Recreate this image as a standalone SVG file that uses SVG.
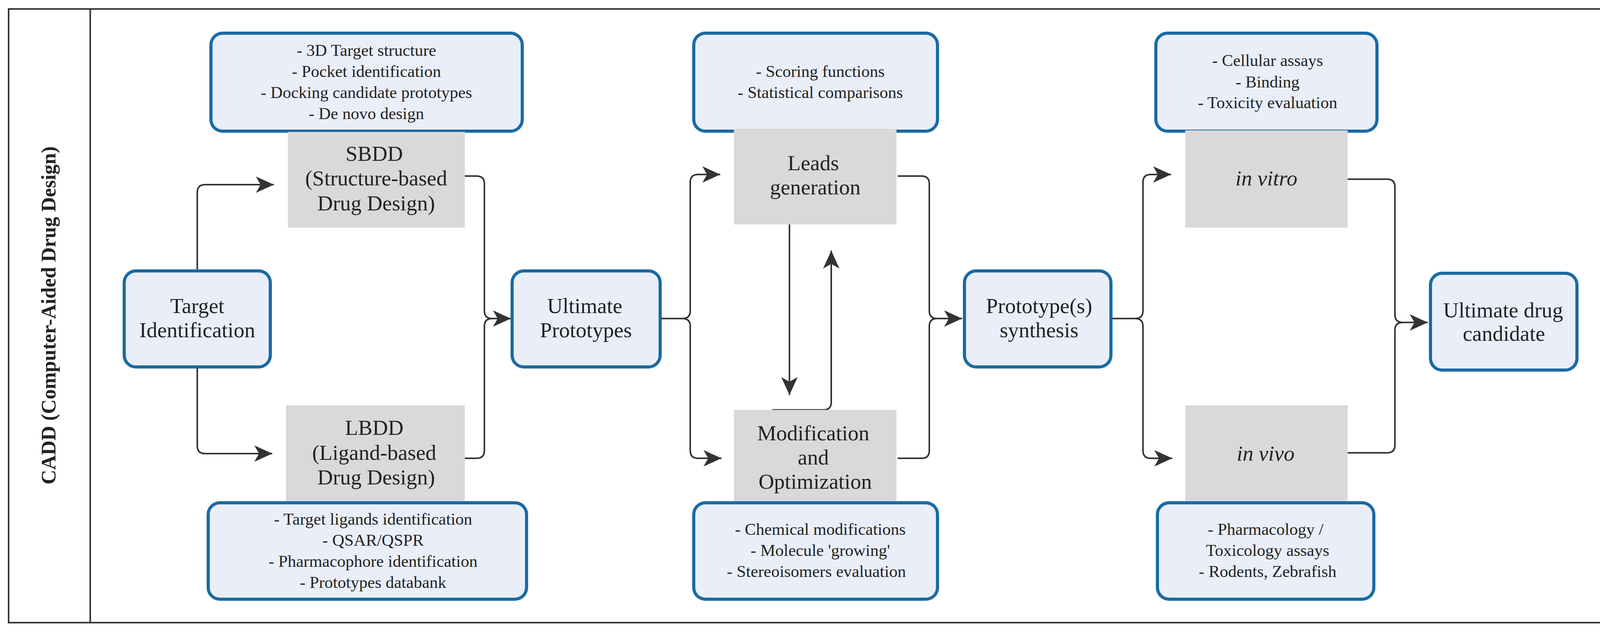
<svg xmlns="http://www.w3.org/2000/svg" width="4161" height="1619" viewBox="0 0 4161 1619">
<style>
.b{fill:#e9eef9;stroke:#1a6aa3;stroke-width:8}
.g{fill:#d9d9d9;stroke:none}
.t{font-family:'Liberation Serif','Times New Roman','DejaVu Serif',serif;fill:#222;text-anchor:middle}
.s{font-size:43px}
.m{font-size:55px}
.c{fill:none;stroke:#333;stroke-width:4}
</style>
<defs>
<marker id="a" markerUnits="userSpaceOnUse" markerWidth="50" markerHeight="44" refX="46" refY="21" orient="auto">
<path d="M0,0 L46,21 L0,42 L12,21 z" fill="#333"/>
</marker>
</defs>
<rect x="0" y="0" width="4161" height="1619" fill="#fff"/>
<rect x="22" y="23" width="4118" height="1572" fill="none" stroke="#333" stroke-width="4"/>
<line x1="231" y1="23" x2="231" y2="1595" stroke="#333" stroke-width="4"/>
<text class="t" font-family="Liberation Serif, serif" font-weight="bold" font-size="52" transform="translate(142,808) rotate(-90)">CADD (Computer-Aided Drug Design)</text>

<g id="conn">
<path class="c" marker-end="url(#a)" d="M505 692 V493 Q505 473 525 473 H701"/>
<path class="c" marker-end="url(#a)" d="M505 940 V1142 Q505 1162 525 1162 H697"/>
<path class="c" marker-end="url(#a)" d="M1183 451 H1220 Q1240 451 1240 471 V796 Q1240 816 1260 816 H1308"/>
<path class="c" d="M1183 1174 H1220 Q1240 1174 1240 1154 V836 Q1240 816 1260 816"/>
<path class="c" marker-end="url(#a)" d="M1690 816 H1747 Q1767 816 1767 796 V467 Q1767 447 1787 447 H1844"/>
<path class="c" marker-end="url(#a)" d="M1690 816 H1747 Q1767 816 1767 836 V1154 Q1767 1174 1787 1174 H1847"/>
<path class="c" marker-end="url(#a)" d="M2021 575 V1012"/>
<path class="c" marker-end="url(#a)" d="M1977 1050 H2108 Q2128 1050 2128 1030 V642"/>
<path class="c" marker-end="url(#a)" d="M2298 451 H2359 Q2379 451 2379 471 V796 Q2379 816 2399 816 H2463"/>
<path class="c" d="M2298 1174 H2359 Q2379 1174 2379 1154 V836 Q2379 816 2399 816"/>
<path class="c" marker-end="url(#a)" d="M2844 816 H2906 Q2926 816 2926 796 V467 Q2926 447 2946 447 H2998"/>
<path class="c" marker-end="url(#a)" d="M2844 816 H2906 Q2926 816 2926 836 V1154 Q2926 1174 2946 1174 H3001"/>
<path class="c" marker-end="url(#a)" d="M3450 459 H3551 Q3571 459 3571 479 V806 Q3571 826 3591 826 H3655"/>
<path class="c" d="M3450 1160 H3551 Q3571 1160 3571 1140 V846 Q3571 826 3591 826"/>
</g>

<g id="target"><rect class="b" x="318" y="694" width="374" height="246" rx="30"/>
<text class="t m" x="505" y="802">Target</text><text class="t m" x="505" y="864">Identification</text></g>

<g id="sbdd-info"><rect class="b" x="540" y="85" width="797" height="251" rx="30"/>
<text class="t s" x="938" y="143">- 3D Target structure</text><text class="t s" x="938" y="197">- Pocket identification</text><text class="t s" x="938" y="251">- Docking candidate prototypes</text><text class="t s" x="938" y="305">- De novo design</text></g>
<g id="sbdd"><rect class="g" x="737" y="338" width="453" height="245"/>
<text class="t m" x="958" y="412">SBDD</text><text class="t m" x="963" y="475">(Structure-based</text><text class="t m" x="963" y="539">Drug Design)</text></g>

<g id="lbdd"><rect class="g" x="732" y="1038" width="458" height="248"/>
<text class="t m" x="958" y="1114">LBDD</text><text class="t m" x="958" y="1178">(Ligand-based</text><text class="t m" x="963" y="1241">Drug Design)</text></g>
<g id="lbdd-info"><rect class="b" x="533" y="1288" width="815" height="247" rx="30"/>
<text class="t s" x="955" y="1344">- Target ligands identification</text><text class="t s" x="955" y="1398">- QSAR/QSPR</text><text class="t s" x="955" y="1452">- Pharmacophore identification</text><text class="t s" x="955" y="1506">- Prototypes databank</text></g>

<g id="ultimate-prototypes"><rect class="b" x="1311" y="694" width="379" height="246" rx="30"/>
<text class="t m" x="1497" y="802">Ultimate</text><text class="t m" x="1500" y="864">Prototypes</text></g>

<g id="leads-info"><rect class="b" x="1776" y="85" width="624" height="251" rx="30"/>
<text class="t s" x="2100" y="197">- Scoring functions</text><text class="t s" x="2100" y="251">- Statistical comparisons</text></g>
<g id="leads"><rect class="g" x="1879" y="330" width="416" height="245"/>
<text class="t m" x="2082" y="436">Leads</text><text class="t m" x="2087" y="498">generation</text></g>

<g id="mod"><rect class="g" x="1879" y="1050" width="416" height="248"/>
<text class="t m" x="2082" y="1128">Modification</text><text class="t m" x="2082" y="1190">and</text><text class="t m" x="2087" y="1252">Optimization</text></g>
<g id="mod-info"><rect class="b" x="1776" y="1288" width="624" height="247" rx="30"/>
<text class="t s" x="2100" y="1370">- Chemical modifications</text><text class="t s" x="2100" y="1424">- Molecule 'growing'</text><text class="t s" x="2090" y="1478">- Stereoisomers evaluation</text></g>

<g id="proto"><rect class="b" x="2469" y="694" width="375" height="246" rx="30"/>
<text class="t m" x="2660" y="802">Prototype(s)</text><text class="t m" x="2660" y="864">synthesis</text></g>

<g id="vitro-info"><rect class="b" x="2959" y="85" width="566" height="251" rx="30"/>
<text class="t s" x="3245" y="169">- Cellular assays</text><text class="t s" x="3245" y="224">- Binding</text><text class="t s" x="3245" y="277">- Toxicity evaluation</text></g>
<g id="vitro"><rect class="g" x="3034" y="334" width="416" height="249"/>
<text class="t m" x="3242" y="475" font-style="italic">in vitro</text></g>

<g id="vivo"><rect class="g" x="3034" y="1038" width="416" height="248"/>
<text class="t m" x="3240" y="1180" font-style="italic">in vivo</text></g>
<g id="vivo-info"><rect class="b" x="2963" y="1288" width="554" height="247" rx="30"/>
<text class="t s" x="3240" y="1370">- Pharmacology /</text><text class="t s" x="3245" y="1424">Toxicology assays</text><text class="t s" x="3245" y="1478">- Rodents, Zebrafish</text></g>

<g id="final"><rect class="b" x="3662" y="700" width="375" height="248" rx="30"/>
<text class="t m" x="3848" y="813">Ultimate drug</text><text class="t m" x="3850" y="873">candidate</text></g>
</svg>
